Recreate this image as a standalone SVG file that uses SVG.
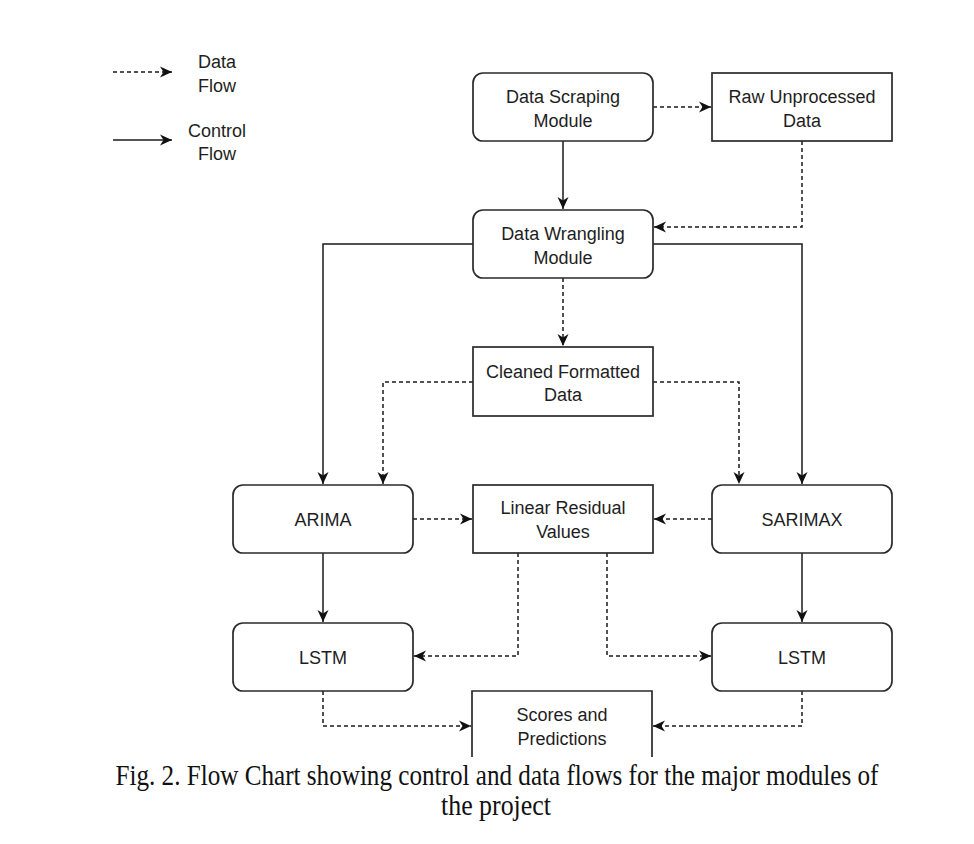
<svg xmlns="http://www.w3.org/2000/svg" width="974" height="844" viewBox="0 0 974 844">
<style>
.box{fill:#fff;stroke:#2a2a2a;stroke-width:1.7}
.t{font-family:"Liberation Sans",Arial,sans-serif;font-size:18px;fill:#1e1e1e;text-anchor:middle}
.c{fill:none;stroke:#1a1a1a;stroke-width:1.5}
.d{fill:none;stroke:#1a1a1a;stroke-width:1.5;stroke-dasharray:4 3}
.cap{font-family:"Liberation Serif","Times New Roman",serif;font-size:30px;fill:#111;text-anchor:middle}
</style>
<defs>
<marker id="ah" markerUnits="userSpaceOnUse" markerWidth="14" markerHeight="14" viewBox="0 0 14 14" refX="12" refY="7" orient="auto">
<path d="M0,1.5 L12,7 L0,12.5 L3.5,7 Z" fill="#111"/>
</marker>
</defs>
<rect width="974" height="844" fill="#fff"/>
<g id="legend">
<line class="d" x1="113" y1="72" x2="172" y2="72" marker-end="url(#ah)"/>
<text class="t" x="217" y="68">Data</text>
<text class="t" x="217" y="92">Flow</text>
<line class="c" x1="113" y1="140" x2="172" y2="140" marker-end="url(#ah)"/>
<text class="t" x="217" y="137">Control</text>
<text class="t" x="217" y="160">Flow</text>
</g>
<g id="connectors">
<path class="c" d="M563,141 V209" marker-end="url(#ah)"/>
<path class="c" d="M473,244 H323 V484" marker-end="url(#ah)"/>
<path class="c" d="M653,244 H802 V484" marker-end="url(#ah)"/>
<path class="c" d="M323,553 V622" marker-end="url(#ah)"/>
<path class="c" d="M802,553 V622" marker-end="url(#ah)"/>
<path class="d" d="M653,107 H711" marker-end="url(#ah)"/>
<path class="d" d="M802,141 V227 H654" marker-end="url(#ah)"/>
<path class="d" d="M563,278 V346" marker-end="url(#ah)"/>
<path class="d" d="M473,382 H383 V484" marker-end="url(#ah)"/>
<path class="d" d="M653,382 H739 V484" marker-end="url(#ah)"/>
<path class="d" d="M413,519 H472" marker-end="url(#ah)"/>
<path class="d" d="M712,519 H654" marker-end="url(#ah)"/>
<path class="d" d="M518,553 V656 H414" marker-end="url(#ah)"/>
<path class="d" d="M607,553 V656 H711" marker-end="url(#ah)"/>
<path class="d" d="M323,691 V726 H471" marker-end="url(#ah)"/>
<path class="d" d="M802,691 V726 H653" marker-end="url(#ah)"/>
</g>
<g id="scraping">
<rect class="box" x="473" y="73" width="180" height="68" rx="10"/>
<text class="t" x="563" y="103">Data Scraping</text>
<text class="t" x="563" y="127">Module</text>
</g>
<g id="raw">
<rect class="box" x="712" y="73" width="180" height="68"/>
<text class="t" x="802" y="103">Raw Unprocessed</text>
<text class="t" x="802" y="127">Data</text>
</g>
<g id="wrangling">
<rect class="box" x="473" y="210" width="180" height="68" rx="10"/>
<text class="t" x="563" y="240">Data Wrangling</text>
<text class="t" x="563" y="264">Module</text>
</g>
<g id="cleaned">
<rect class="box" x="473" y="347" width="180" height="69"/>
<text class="t" x="563" y="378">Cleaned Formatted</text>
<text class="t" x="563" y="401">Data</text>
</g>
<g id="arima">
<rect class="box" x="233" y="485" width="180" height="68" rx="10"/>
<text class="t" x="323" y="526">ARIMA</text>
</g>
<g id="linear">
<rect class="box" x="473" y="485" width="180" height="68"/>
<text class="t" x="563" y="514">Linear Residual</text>
<text class="t" x="563" y="538">Values</text>
</g>
<g id="sarimax">
<rect class="box" x="712" y="485" width="180" height="68" rx="10"/>
<text class="t" x="802" y="526">SARIMAX</text>
</g>
<g id="lstm1">
<rect class="box" x="233" y="623" width="180" height="68" rx="10"/>
<text class="t" x="323" y="664">LSTM</text>
</g>
<g id="lstm2">
<rect class="box" x="712" y="623" width="180" height="68" rx="10"/>
<text class="t" x="802" y="664">LSTM</text>
</g>
<g id="scores">
<path class="box" d="M472,757 V691 H652 V757"/>
<text class="t" x="562" y="721">Scores and</text>
<text class="t" x="562" y="745">Predictions</text>
</g>
<g id="caption">
<text class="cap" x="497" y="785" textLength="763" lengthAdjust="spacingAndGlyphs">Fig. 2. Flow Chart showing control and data flows for the major modules of</text>
<text class="cap" x="496" y="815" textLength="110" lengthAdjust="spacingAndGlyphs">the project</text>
</g>
</svg>
